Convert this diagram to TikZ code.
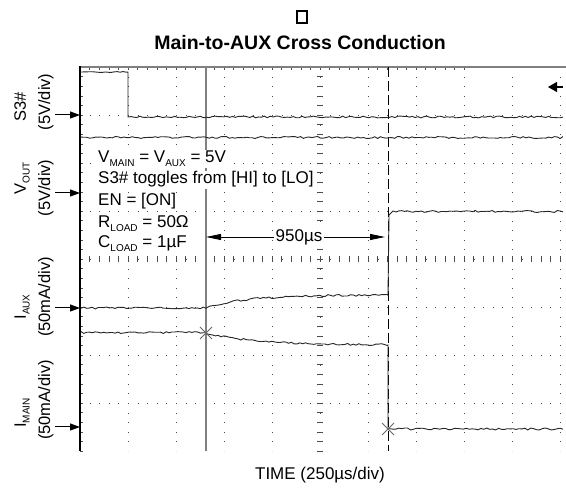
\documentclass[tikz,border=0pt]{standalone}
\usepackage{fontspec}
\setmainfont{Liberation Sans}
\usetikzlibrary{arrows.meta}

\newcommand{\lo}[1]{\raisebox{-0.22em}{\fontsize{10}{10}\selectfont #1}}

\tikzset{
  griddots/.style={black!70, line width=0.7pt, dash pattern=on 0.7pt off 8.9pt},
  tick/.style={black!70, line width=0.5pt},
  trace/.style={black!85, line width=0.9pt},
  chan/.style={-{Triangle[length=10pt,width=7pt]}, line width=1pt},
  dtarrow/.style={-{Triangle[length=15pt,width=6pt]}, line width=0.9pt},
  lbl/.style={font=\fontsize{16.5}{18}\selectfont, inner sep=0pt, rotate=90, anchor=base},
  info/.style={font=\fontsize{17}{20}\selectfont, inner sep=1pt, fill=white, anchor=base west},
  xmark/.style={black!60, line width=0.8pt}
}

\begin{document}
\begin{tikzpicture}[x=1pt, y=-1pt]
    \useasboundingbox (0,0) rectangle (566,489);
    \pgfmathsetseed{11}
    % Grid
    \foreach \gx in {128,176,...,560}
      \draw[griddots] (\gx,67) -- (\gx,451);
    \foreach \gy in {115,163,...,403}
      \draw[griddots] (80,\gy) -- (566,\gy);
    % Ticks on centre axes and borders
    \foreach \k in {0,...,40} {
      \draw[tick] ({80+9.6*\k},256) -- ++(0,6);
      \draw[tick] (317,{67+9.6*\k}) -- ++(6,0);
      \draw[tick] ({80+9.6*\k},67) -- ++(0,3);
      \draw[tick] (80,{67+9.6*\k}) -- ++(3,0);
    }
    \foreach \k in {41,...,50}
      \draw[tick] ({80+9.6*\k},256) -- ++(0,6);
    % Borders
    \draw[gray, line width=1.6pt] (80,67) -- (566,67);
    \draw[black, line width=1.6pt] (80,66) -- (80,451);
    % Cursors
    \coordinate (cur1top) at (206,67);
    \coordinate (cur1bot) at (206,451);
    \coordinate (cur2top) at (388,67);
    \coordinate (cur2bot) at (388,451);
    \draw[gray, line width=1.2pt] (cur1top) -- (cur1bot);
    \draw[black, line width=1pt, dash pattern=on 10pt off 4pt] (cur2top) -- (cur2bot);
    % Traces
    \draw[trace] (80,72) -- plot[domain=82:126, samples=16] (\x,{72+0.5*rand}) -- (128,72) -- (128,117)
      -- plot[domain=131:563, samples=150] (\x,{117+0.9*rand});
    \draw[trace] plot[domain=81:563, samples=170] (\x,{137.5+1.0*rand});
    \draw[trace] (388,296) -- (389,215) -- (393,211)
      -- plot[domain=396:563, samples=60] (\x,{211.5+1.0*rand});
    \draw[trace] plot[domain=81:206, samples=45] (\x,{308+1.0*rand})
      -- plot[domain=207:387, samples=65] (\x,{295+13*exp(-(\x-206)/40)+1.0*rand}) -- (388,295);
    \draw[trace] plot[domain=81:206, samples=45] (\x,{332.5+1.0*rand})
      -- plot[domain=207:387, samples=65] (\x,{345-12*exp(-(\x-206)/50)+1.0*rand}) -- (388,345)
      -- (388,429) -- plot[domain=390:563, samples=60] (\x,{429+1.0*rand});
    % Markers
    \draw[xmark] (206,333) +(-6,-6) -- +(6,6) +(-6,6) -- +(6,-6);
    \draw[xmark] (388,429) +(-6,-6) -- +(6,6) +(-6,6) -- +(6,-6);
    \coordinate (trig) at (563,87);
    \coordinate (trigtip) at (548,87);
    \draw[-{Triangle[length=9pt,width=10pt]}, line width=1.2pt] (trig) -- (trigtip);
    % Channel arrows
    \foreach \cy/\cn in {115/s3, 193/vout, 308/iaux, 427/imain} {
      \coordinate (\cn from) at (55,\cy);
      \coordinate (\cn to) at (80,\cy);
      \draw[chan] (\cn from) -- (\cn to);
    }
    % Channel labels
    \node[lbl] (s3name) at (26,107) {S3\#};
    \node[lbl] (s3div) at (50,102) {(5V/div)};
    \node[lbl] (voutname) at (26,178) {V\lo{OUT}};
    \node[lbl] (voutdiv) at (50,188) {(5V/div)};
    \node[lbl] (iauxname) at (26,307) {I\lo{AUX}};
    \node[lbl] (iauxdiv) at (50,297) {(50mA/div)};
    \node[lbl] (imainname) at (26,413) {I\lo{MAIN}};
    \node[lbl] (imaindiv) at (50,400) {(50mA/div)};
    % Conditions
    \node[info] (cond1) at (97,163) {V\lo{MAIN} = V\lo{AUX} = 5V};
    \node[info] (cond2) at (97,184) {S3\# toggles from [HI] to [LO]};
    \node[info] (cond3) at (97,206) {EN = [ON]};
    \node[info] (cond4) at (97,228) {R\lo{LOAD} = 50Ω};
    \node[info] (cond5) at (97,248) {C\lo{LOAD} = 1µF};
    % Delay
    \node[font=\fontsize{17}{20}\selectfont, fill=white, inner sep=1pt] (delay) at (299,237) {950µs};
    \draw[dtarrow] (delay.west) -- (delay.west -| cur1top);
    \draw[dtarrow] (delay.east) -- ([xshift=-3pt]delay.east -| cur2top);
    % Title and axis
    \node[draw, line width=1.2pt, minimum width=10pt, minimum height=12pt, inner sep=0pt] (glyph) at (302,17) {};
    \node[font=\bfseries\fontsize{19.5}{22}\selectfont, anchor=base] (title) at (300,50) {Main-to-AUX Cross Conduction};
    \node[font=\fontsize{17}{20}\selectfont, anchor=base] (timeaxis) at (320,480) {TIME (250µs/div)};
\end{tikzpicture}
\end{document}
